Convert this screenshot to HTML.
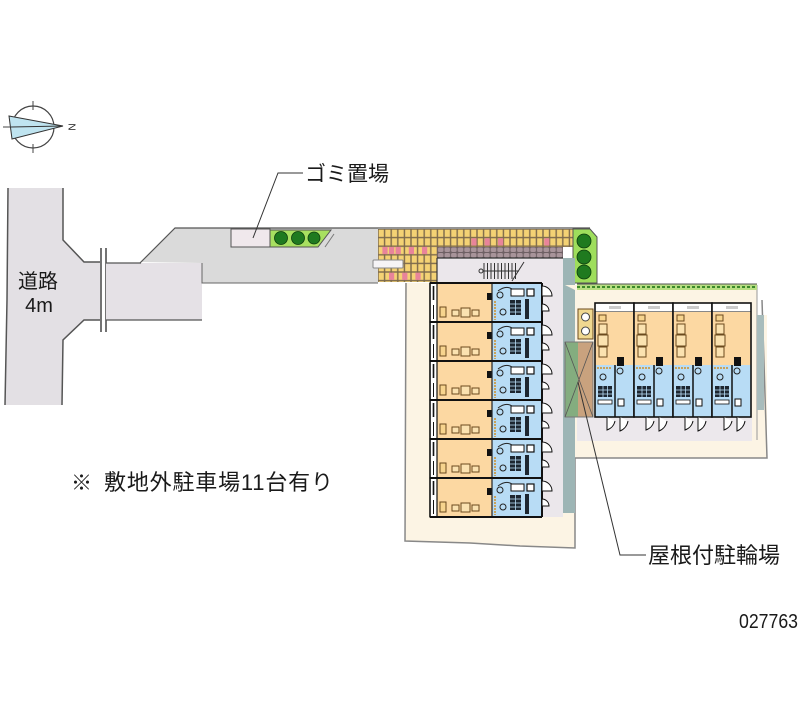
<!DOCTYPE html>
<html><head><meta charset="utf-8">
<style>html,body{margin:0;padding:0;background:#fff}svg{display:block}
text{font-family:"Liberation Sans","Noto Sans CJK JP",sans-serif;fill:#1a1a1a}</style></head>
<body>
<svg width="800" height="727" viewBox="0 0 800 727" xmlns="http://www.w3.org/2000/svg">
<defs>
<pattern id="br" x="378" y="229" width="6.6" height="8.6" patternUnits="userSpaceOnUse">
<rect width="6.6" height="8.6" fill="#7d6a4c"/>
<rect x="0.7" y="0.7" width="5.2" height="7.2" fill="#f4d274"/>
</pattern>
<pattern id="mv" x="378" y="247" width="6.6" height="5.5" patternUnits="userSpaceOnUse">
<rect width="6.6" height="5.5" fill="#6e6064"/>
<rect x="0.5" y="0.5" width="5.6" height="4.5" rx="1.5" fill="#a8949a"/>
</pattern>
<g id="L">
<rect x="7" y="0" width="55" height="39" fill="#fcd8a2"/>
<rect x="0" y="0" width="7" height="39" fill="#fff" stroke="#111" stroke-width="1.2"/>
<line x1="3.5" y1="3" x2="3.5" y2="17" stroke="#111" stroke-width="1.6"/>
<line x1="3.5" y1="22" x2="3.5" y2="36" stroke="#111" stroke-width="1"/>
<rect x="10" y="24" width="6" height="10" fill="#f7d48e" stroke="#6b4a1e" stroke-width="1"/>
<rect x="22" y="27" width="7" height="6" fill="#fbe2b0" stroke="#6b4a1e" stroke-width="1"/>
<rect x="31" y="25" width="9" height="9" fill="#fbe2b0" stroke="#6b4a1e" stroke-width="1"/>
<rect x="42" y="27" width="7" height="6" fill="#fbe2b0" stroke="#6b4a1e" stroke-width="1"/>
<rect x="57" y="10" width="7" height="7" fill="#111"/>
<rect x="62" y="0" width="50" height="39" fill="#b8dcf5"/>
<line x1="62" y1="0" x2="62" y2="39" stroke="#222" stroke-width="1.2"/>
<line x1="65" y1="18" x2="65" y2="37" stroke="#c9a25a" stroke-width="2" stroke-dasharray="2 1"/>
<circle cx="70" cy="12" r="3" fill="none" stroke="#222" stroke-width="1"/>
<circle cx="73" cy="29" r="3" fill="none" stroke="#222" stroke-width="1"/>
<path d="M68 8 Q76 2 82 6" fill="none" stroke="#222" stroke-width="1"/>
<rect x="80" y="17" width="11" height="15" fill="#1d2630"/>
<line x1="80" y1="21" x2="91" y2="21" stroke="#b8dcf5" stroke-width="0.8"/>
<line x1="80" y1="25" x2="91" y2="25" stroke="#b8dcf5" stroke-width="0.8"/>
<line x1="80" y1="29" x2="91" y2="29" stroke="#b8dcf5" stroke-width="0.8"/>
<line x1="85.5" y1="17" x2="85.5" y2="32" stroke="#b8dcf5" stroke-width="0.8"/>
<rect x="81" y="6" width="13" height="7" fill="#fff" stroke="#111" stroke-width="1"/>
<rect x="97" y="6" width="7" height="7" fill="#fff" stroke="#111" stroke-width="1.2"/>
<rect x="95" y="16" width="4" height="20" fill="#1d2630"/>
<line x1="112" y1="0" x2="112" y2="39" stroke="#111" stroke-width="2"/>
<path d="M112 3 A10 10 0 0 1 122 13 L112 13 Z" fill="#fff" stroke="#111" stroke-width="1"/>
<path d="M112 21 A7 7 0 0 1 119 28 L112 28 Z" fill="#fff" stroke="#111" stroke-width="1"/>
<line x1="0" y1="0" x2="112" y2="0" stroke="#111" stroke-width="2"/>
</g>
<g id="R">
<rect x="0" y="0" width="39" height="9" fill="#fff" stroke="#111" stroke-width="1"/>
<rect x="14" y="3" width="12" height="3" fill="#ccc"/>
<rect x="0" y="9" width="39" height="53" fill="#fcd8a2"/>
<rect x="0" y="62" width="39" height="52" fill="#b8dcf5"/>
<rect x="4" y="12" width="7" height="6" fill="#f7d48e" stroke="#6b4a1e" stroke-width="1"/>
<rect x="4" y="21" width="8" height="10" fill="#fbe2b0" stroke="#6b4a1e" stroke-width="1"/>
<rect x="3" y="32" width="10" height="11" fill="#fbe2b0" stroke="#6b4a1e" stroke-width="1"/>
<rect x="4" y="44" width="8" height="10" fill="#fbe2b0" stroke="#6b4a1e" stroke-width="1"/>
<rect x="22" y="54" width="7" height="9" fill="#111"/>
<line x1="2" y1="65" x2="16" y2="65" stroke="#c9a25a" stroke-width="2" stroke-dasharray="2 1"/>
<circle cx="8" cy="74" r="3" fill="none" stroke="#222" stroke-width="1"/>
<circle cx="25" cy="68" r="3" fill="none" stroke="#222" stroke-width="1"/>
<rect x="3" y="83" width="14" height="11" fill="#1d2630"/>
<line x1="3" y1="87" x2="17" y2="87" stroke="#b8dcf5" stroke-width="0.8"/>
<line x1="3" y1="91" x2="17" y2="91" stroke="#b8dcf5" stroke-width="0.8"/>
<line x1="8" y1="83" x2="8" y2="94" stroke="#b8dcf5" stroke-width="0.8"/>
<line x1="12.5" y1="83" x2="12.5" y2="94" stroke="#b8dcf5" stroke-width="0.8"/>
<rect x="3" y="97" width="14" height="4" fill="#fff" stroke="#111" stroke-width="0.8"/>
<line x1="20" y1="62" x2="20" y2="114" stroke="#111" stroke-width="1.5"/>
<rect x="23" y="96" width="6" height="7" fill="#fff" stroke="#111" stroke-width="1"/>
<rect x="0" y="0" width="39" height="114" fill="none" stroke="#111" stroke-width="1.6"/>
<path d="M12 114 L12 127 A12 12 0 0 0 20 118" fill="#fff" stroke="#111" stroke-width="1"/>
<path d="M25 114 L25 128 A13 13 0 0 0 33 118" fill="#fff" stroke="#111" stroke-width="1"/>
</g>
</defs>

<rect width="800" height="727" fill="#fff"/>

<!-- compass -->
<circle cx="33" cy="127" r="21" fill="none" stroke="#444" stroke-width="1.2"/>
<line x1="33" y1="101" x2="33" y2="110" stroke="#444" stroke-width="1"/>
<line x1="33" y1="144" x2="33" y2="153" stroke="#444" stroke-width="1"/>
<line x1="3" y1="127" x2="11" y2="127" stroke="#444" stroke-width="1"/>
<polygon points="9,116 63,126 12,139" fill="#bfe4f0" stroke="#333" stroke-width="1"/>
<line x1="11" y1="127" x2="63" y2="126" stroke="#333" stroke-width="1"/>
<text x="72" y="127" font-size="10" text-anchor="middle" transform="rotate(90 72 127)" dy="3.5">N</text>

<!-- road -->
<polygon points="8,188 63,188 63,240 84,262 100,262 100,320 84,320 63,340 62,405 5,405 7,300" fill="#e3e0e4"/>
<polyline points="8,188 7,300 5,405" fill="none" stroke="#555" stroke-width="1.5"/>
<polyline points="63,188 63,240 84,262 100,262" fill="none" stroke="#555" stroke-width="1.5"/>
<polyline points="100,320 84,320 63,340 62,405" fill="none" stroke="#555" stroke-width="1.5"/>
<line x1="101" y1="248" x2="101" y2="332" stroke="#444" stroke-width="1.5"/>
<line x1="106" y1="248" x2="106" y2="332" stroke="#444" stroke-width="1.5"/>
<rect x="106" y="263" width="96" height="57" fill="#e5e1e6"/>
<line x1="106" y1="320" x2="202" y2="320" stroke="#555" stroke-width="1.2"/>
<line x1="106" y1="263" x2="141" y2="263" stroke="#555" stroke-width="1.2"/>
<text x="38" y="288" font-size="20" text-anchor="middle">道路</text>
<text x="39" y="312" font-size="20" text-anchor="middle">4m</text>

<!-- gray path -->
<polygon points="140,262 175,228 378,228 378,283 202,283 202,263" fill="#dadada"/>
<polyline points="140,263 175,228 590,228" fill="none" stroke="#555" stroke-width="1.2"/>
<polyline points="202,263 202,283 378,283" fill="none" stroke="#666" stroke-width="1"/>
<rect x="231" y="229" width="39" height="18" fill="#f0e8ec" stroke="#555" stroke-width="1"/>
<polygon points="270,230 331,230 318,247 270,247" fill="#a8e060" stroke="#555" stroke-width="1"/>
<line x1="325" y1="247" x2="334" y2="234" stroke="#777" stroke-width="1"/>
<circle cx="281" cy="238" r="6.5" fill="#1f7a1f" stroke="#0d3d0d" stroke-width="0.8"/>
<circle cx="298" cy="238" r="6.5" fill="#1f7a1f" stroke="#0d3d0d" stroke-width="0.8"/>
<circle cx="314" cy="238" r="6" fill="#1f7a1f" stroke="#0d3d0d" stroke-width="0.8"/>

<!-- bricks -->
<rect x="378" y="229" width="195" height="18" fill="url(#br)"/>
<rect x="378" y="247" width="59" height="35" fill="url(#br)"/>
<rect x="437" y="247" width="126" height="11" fill="url(#mv)"/>
<g fill="#e8849a">
<rect x="471.4" y="238.3" width="5.2" height="7.2"/>
<rect x="484.6" y="238.3" width="5.2" height="7.2"/>
<rect x="498" y="238.3" width="5.2" height="7.2"/>
<rect x="544.2" y="238.3" width="5.2" height="7.2"/>
<rect x="382.4" y="246.9" width="5.2" height="7.2"/>
<rect x="389" y="246.9" width="5.2" height="7.2"/>
<rect x="395.6" y="246.9" width="5.2" height="7.2"/>
<rect x="408.8" y="246.9" width="5.2" height="7.2"/>
<rect x="422" y="246.9" width="5.2" height="7.2"/>
<rect x="389" y="272.7" width="5.2" height="7.2"/>
<rect x="402.2" y="272.7" width="5.2" height="7.2"/>
<rect x="415.4" y="272.7" width="5.2" height="7.2"/>
</g>
<rect x="373" y="260" width="30" height="8" rx="1" fill="#f6f4f6" stroke="#888" stroke-width="1"/>

<!-- green strip -->
<polygon points="573,229 590,229 597,237 597,283 573,283" fill="#9ede5c" stroke="#555" stroke-width="1"/>
<circle cx="584" cy="241" r="7" fill="#1f7a1f" stroke="#0d3d0d" stroke-width="0.8"/>
<circle cx="584" cy="257" r="7" fill="#1f7a1f" stroke="#0d3d0d" stroke-width="0.8"/>
<circle cx="584" cy="272" r="7" fill="#1f7a1f" stroke="#0d3d0d" stroke-width="0.8"/>

<!-- left lot -->
<polygon points="405,283 575,283 575,548 405,541" fill="#fcf4e4"/>
<polyline points="406,283 405,541 470,543 520,546 575,548 575,458" fill="none" stroke="#888" stroke-width="1.5"/>
<rect x="542" y="283" width="21" height="234" fill="#ebe7eb"/>
<rect x="563" y="258" width="12" height="255" fill="#9db5b5"/>

<!-- stair area -->
<rect x="437" y="258" width="126" height="25" fill="#ebe7eb"/>
<line x1="437" y1="258" x2="563" y2="258" stroke="#333" stroke-width="1.2"/>
<line x1="437" y1="258" x2="437" y2="283" stroke="#333" stroke-width="1.2"/>
<g stroke="#333" stroke-width="1">
<line x1="484" y1="263" x2="484" y2="279"/><line x1="487.5" y1="263" x2="487.5" y2="279"/>
<line x1="491" y1="263" x2="491" y2="279"/><line x1="494.5" y1="263" x2="494.5" y2="279"/>
<line x1="498" y1="263" x2="498" y2="279"/><line x1="501.5" y1="263" x2="501.5" y2="279"/>
<line x1="505" y1="263" x2="505" y2="279"/><line x1="508.5" y1="263" x2="508.5" y2="279"/>
<line x1="512" y1="263" x2="512" y2="279"/><line x1="515.5" y1="263" x2="515.5" y2="279"/>
<line x1="484" y1="271" x2="519" y2="271"/>
<line x1="512" y1="281" x2="524" y2="262"/>
</g>
<circle cx="481" cy="271" r="2" fill="none" stroke="#333"/>

<!-- right lot -->
<polygon points="565,285 757,285 757,315 767,315 767,458 575,458 575,290" fill="#fcf4e4"/>
<polyline points="757,285 757,440" fill="none" stroke="#999" stroke-width="1"/>
<polyline points="762,300 767,458 575,458" fill="none" stroke="#888" stroke-width="1.5"/>
<rect x="757" y="315" width="7" height="95" fill="#a8bcbc"/>
<rect x="577" y="284" width="180" height="6" fill="#b8de82"/>
<line x1="577" y1="284" x2="757" y2="284" stroke="#555" stroke-width="1"/>
<line x1="577" y1="287" x2="757" y2="287" stroke="#3c8a2a" stroke-width="2" stroke-dasharray="3 2"/>
<rect x="577" y="417" width="175" height="24" fill="#ece8ec"/>

<!-- washer + bike parking -->
<rect x="578" y="309" width="15" height="30" fill="#f0d890" stroke="#6b4a1e" stroke-width="1"/>
<circle cx="585.5" cy="317" r="4" fill="#fff" stroke="#444" stroke-width="1"/>
<circle cx="585.5" cy="331" r="4" fill="#fff" stroke="#444" stroke-width="1"/>
<rect x="565" y="342" width="13" height="75" fill="#84ad7f"/>
<rect x="578" y="342" width="15" height="75" fill="#c9a27e"/>
<rect x="565" y="342" width="28" height="75" fill="none" stroke="#777" stroke-width="1"/>
<line x1="565" y1="342" x2="593" y2="417" stroke="#555" stroke-width="0.8"/>
<line x1="593" y1="342" x2="565" y2="417" stroke="#555" stroke-width="0.8"/>

<!-- left building units -->
<use href="#L" x="430" y="283"/>
<use href="#L" x="430" y="322"/>
<use href="#L" x="430" y="361"/>
<use href="#L" x="430" y="400"/>
<use href="#L" x="430" y="439"/>
<use href="#L" x="430" y="478"/>
<line x1="430" y1="517" x2="542" y2="517" stroke="#111" stroke-width="2"/>
<line x1="430" y1="283" x2="430" y2="517" stroke="#111" stroke-width="1.5"/>

<!-- right building units -->
<use href="#R" x="595" y="303"/>
<use href="#R" x="634" y="303"/>
<use href="#R" x="673" y="303"/>
<use href="#R" x="712" y="303"/>

<!-- leader lines -->
<polyline points="303,173 278,173 253,238" fill="none" stroke="#333" stroke-width="1"/>
<polyline points="646,555 620,555 578,382" fill="none" stroke="#333" stroke-width="1"/>

<!-- labels -->
<text x="305" y="181" font-size="21">ゴミ置場</text>
<text x="648" y="563" font-size="22">屋根付駐輪場</text>
<text x="71" y="490" font-size="21">※</text>
<text x="104" y="490" font-size="22" textLength="229" lengthAdjust="spacing">敷地外駐車場11台有り</text>
<text x="739" y="628" font-size="20" textLength="59" lengthAdjust="spacingAndGlyphs">027763</text>
</svg>
</body></html>
